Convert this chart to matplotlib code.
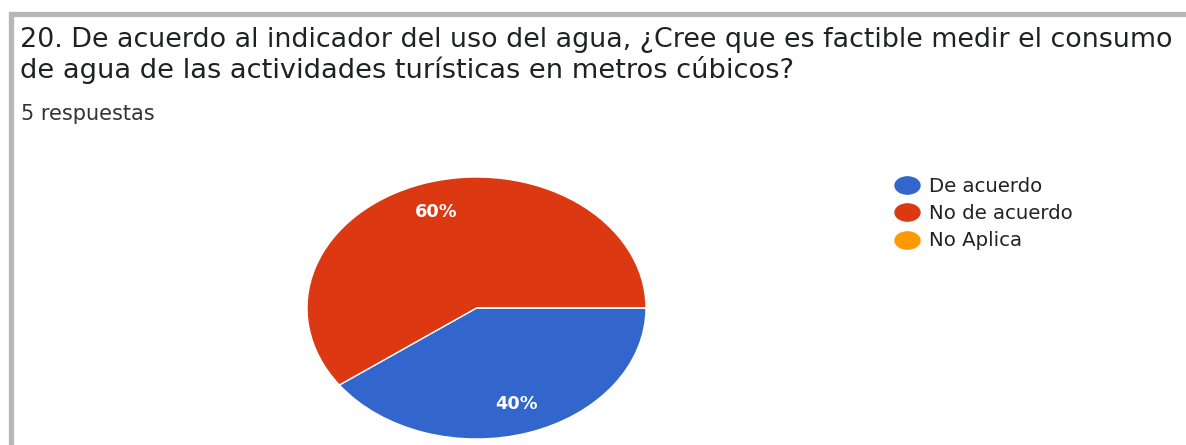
import matplotlib.pyplot as plt
from matplotlib.lines import Line2D
from matplotlib.patches import Rectangle
from matplotlib.path import Path
from matplotlib.transforms import Affine2D

categories = ["De acuerdo", "No de acuerdo", "No Aplica"]
responses = [2, 3, 0]
colors = ["#3366cc", "#dc3912", "#ff9900"]
title_lines = ["20. De acuerdo al indicador del uso del agua, \u00bfCree que es factible medir el consumo",
               "de agua de las actividades tur\u00edsticas en metros c\u00fabicos?"]
subtitle = "5 respuestas"

W, H = 1186, 445
plt.rcParams['font.family'] = ['DejaVu Sans']
fig = plt.figure(figsize=(W / 100, H / 100), dpi=100)

def fx(px):
    return px / W

def fy(py):
    return 1 - py / H

# grey card border (top and left edges only are visible)
fig.patches.append(Rectangle((fx(10.5), fy(H + 50)), fx(W + 50), (H + 50 - 13.5) / H,
                             transform=fig.transFigure, fill=False,
                             edgecolor="#b7b7b7", linewidth=3.8))

fig.text(fx(20), fy(47), title_lines[0], fontsize=19.4, color="#202124", va="baseline")
fig.text(fx(20), fy(78), title_lines[1], fontsize=19.6, color="#202124", va="baseline")
fig.text(fx(21), fy(120), subtitle, fontsize=15, color="#333333", va="baseline")

# pie is stretched horizontally in the reference, so no equal aspect
ax = fig.add_axes([fx(307), fy(439), fx(339), 262 / H])
wedges, _, autotexts = ax.pie(responses, colors=colors, startangle=0, counterclock=False,
                              autopct=lambda p: f"{p:.0f}%" if p > 0 else "",
                              pctdistance=0.77,
                              wedgeprops=dict(edgecolor="white", linewidth=1))
for t in autotexts:
    t.set_color("white")
    t.set_fontsize(12.8)
    t.set_fontweight("bold")
ax.set_aspect("auto")
ax.set_xlim(-1, 1)
ax.set_ylim(-1, 1)

# legend dots are stretched too
oval = Path.unit_circle().transformed(Affine2D().scale(1.45, 1.0))
handles = [Line2D([], [], marker=oval, linestyle="", markersize=18, color=c) for c in colors]
fig.legend(handles, categories, loc="upper left", bbox_to_anchor=(fx(884), fy(167)),
           frameon=False, fontsize=14.2, handletextpad=0.5, labelspacing=0.42,
           handlelength=1.3, borderpad=0, labelcolor="#222222")

fig.savefig("out.png", dpi=100)
